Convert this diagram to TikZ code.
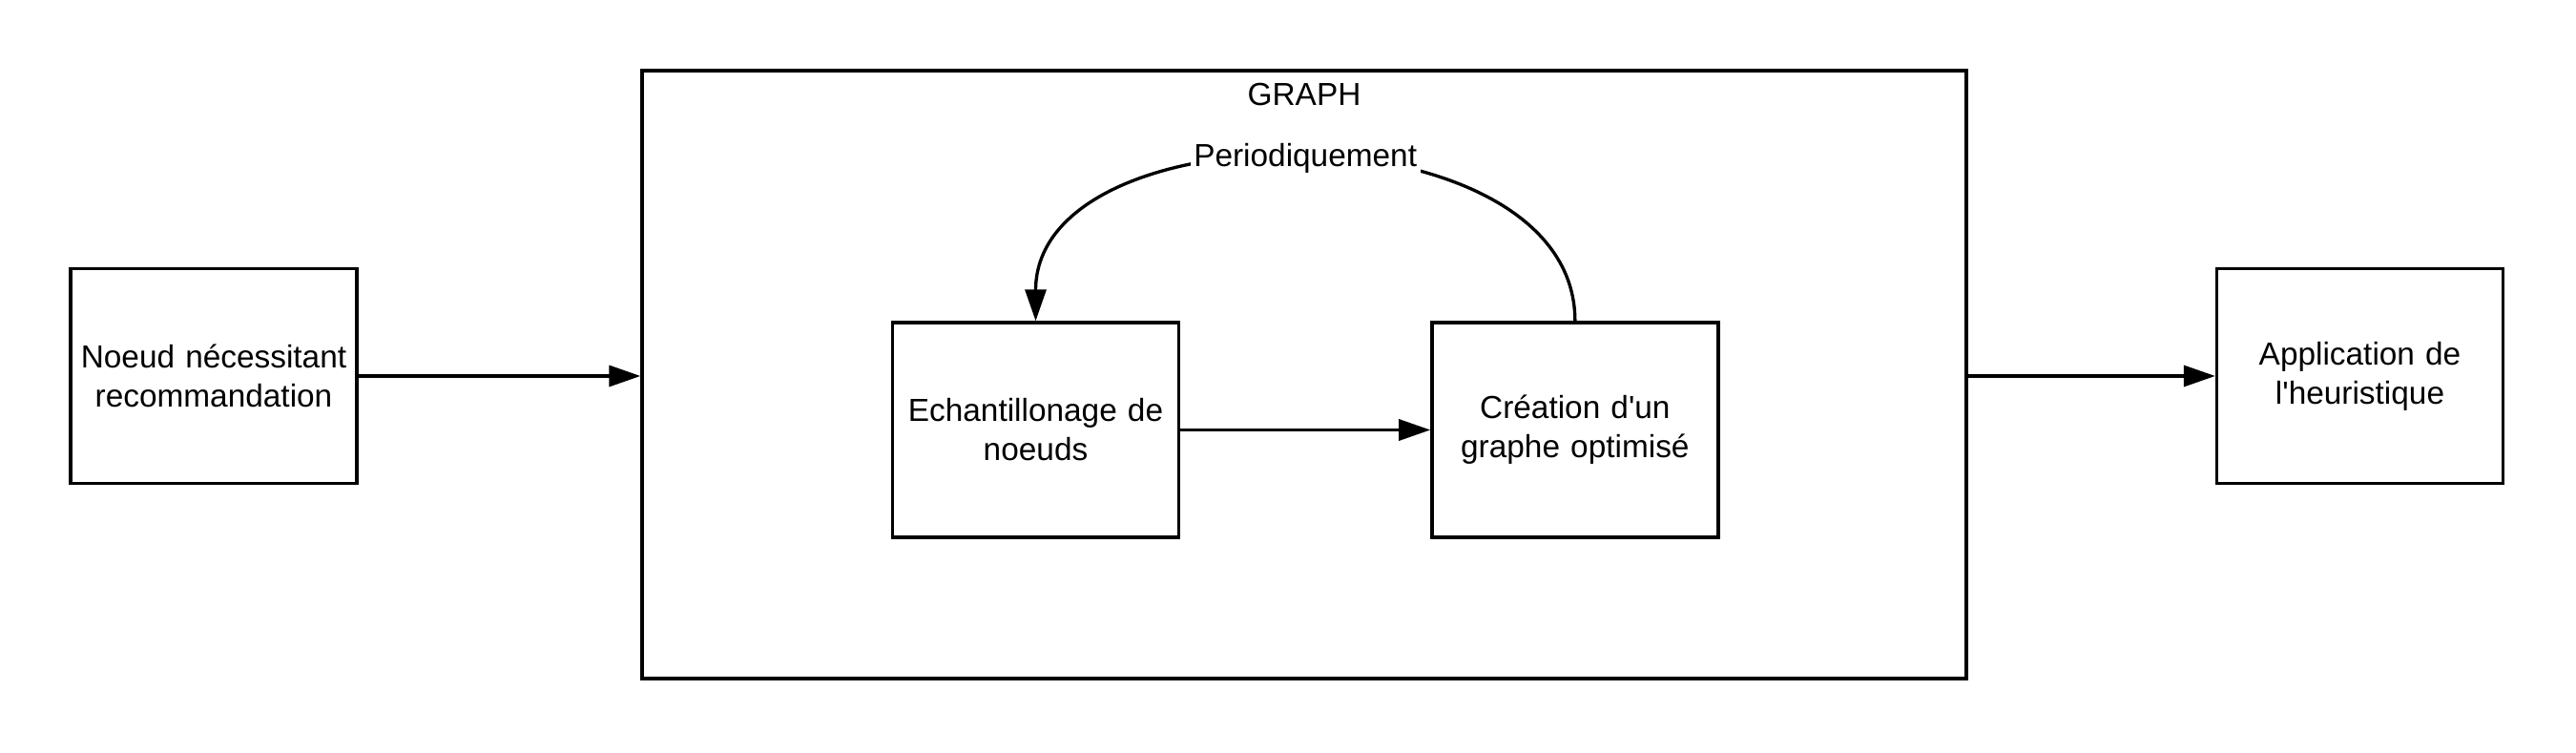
\documentclass[tikz,border=0pt]{standalone}
\usepackage{fontspec}
\setmainfont{Liberation Sans}
\usepackage{tikz}
\usetikzlibrary{arrows.meta,positioning}

\begin{document}
\begin{tikzpicture}[
    every node/.style={font=\fontsize{9.5}{11.7}\selectfont},
    box/.style={rectangle,draw=black,line width=0.95pt,
      text width=2.9cm,inner sep=0.05cm,minimum height=2.25cm,align=center},
    frame/.style={rectangle,draw=black,line width=0.95pt,
      minimum width=13.88cm,minimum height=6.37cm,inner sep=0pt},
    arrow/.style={-{Triangle[length=3.3mm,width=2.2mm]},line width=0.95pt}
  ]
    \useasboundingbox (0,0) rectangle (27,7.88);
    \node[box] (noeud) at (2.24,3.94) {Noeud nécessitant\\recommandation};
    \node[frame] (graph) at (13.67,3.955) {};
    \node (graphlbl) at ([yshift=-0.27cm]graph.north) {GRAPH};
    \node[box] (echant) at (10.855,3.375) {Echantillonage de\\noeuds};
    \node[box,right=2.62cm of echant] (creation) {Création d\textquotesingle un\\graphe optimisé};
    \node[box] (appli) at (24.735,3.94) {Application de\\l\textquotesingle heuristique};

    \draw[arrow] (noeud) -- (noeud -| graph.west);
    \draw[arrow] (graph.east |- appli) -- (appli);
    \draw[arrow] (echant) -- (creation);
    \draw[arrow] (creation.north) to[out=90,in=90,looseness=1.03]
      node[midway,fill=white,inner sep=1pt] {Periodiquement} (echant.north);
  \end{tikzpicture}
\end{document}
